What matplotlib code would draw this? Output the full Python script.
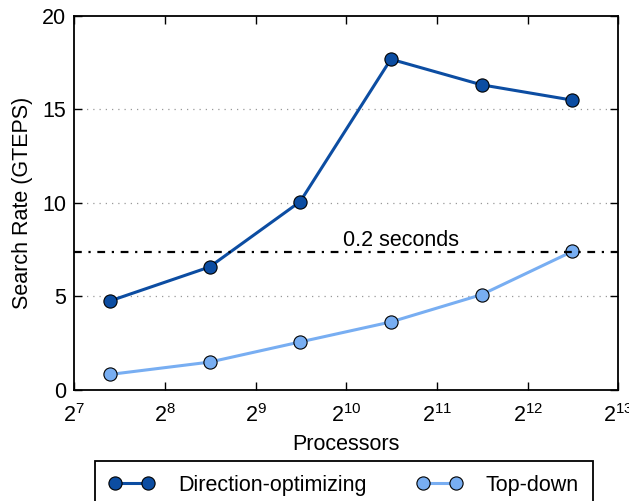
import matplotlib
matplotlib.use('Agg')
import matplotlib.pyplot as plt

# дані з графіка
processors = [168, 360, 720, 1440, 2880, 5760]
direction_opt = [4.75, 6.57, 10.07, 17.69, 16.32, 15.50]
top_down = [0.82, 1.48, 2.56, 3.63, 5.09, 7.40]
rate_02s = 7.38

plt.rcParams['font.family'] = ['Liberation Sans', 'DejaVu Sans']
plt.rcParams['font.size'] = 15.5
plt.rcParams['mathtext.fontset'] = 'custom'
plt.rcParams['mathtext.rm'] = 'Liberation Sans'
plt.rcParams['mathtext.it'] = 'Liberation Sans'

fig = plt.figure(figsize=(6.29, 5.01), dpi=100)
ax = fig.add_axes([0.118, 0.222, 0.865, 0.746])

dark = '#0c4da2'
light = '#78aef2'

ax.plot(processors, direction_opt, '-o', color=dark, lw=2.2, markersize=9.5,
        markeredgecolor='black', markeredgewidth=0.8, label='Direction-optimizing')
ax.plot(processors, top_down, '-o', color=light, lw=2.2, markersize=9.5,
        markeredgecolor='black', markeredgewidth=0.8, label='Top-down')

ax.axhline(rate_02s, color='black', lw=1.6, ls='-.', dashes=(3.5, 3, 1, 3))
ax.text(2 ** 10.6, rate_02s + 0.05, '0.2 seconds', ha='center', va='bottom')

ax.set_xscale('log', base=2)
ax.set_xlim(2 ** 7, 2 ** 13)
ax.set_ylim(0, 20)
ax.set_yticks([0, 5, 10, 15, 20])
ax.set_xticks([2 ** k for k in range(7, 14)])
ax.minorticks_off()
for y in [5, 10, 15]:
    ax.axhline(y, color='#999999', lw=0.9, ls=(0, (1, 4)), zorder=0)

ax.tick_params(direction='in', length=6, width=1, top=True, right=True, pad=6)
ax.tick_params(axis='x', pad=10)
for s in ax.spines.values():
    s.set_linewidth(1.3)

ax.set_xlabel('Processors', labelpad=5)
ax.set_ylabel('Search Rate (GTEPS)', labelpad=6)

leg = fig.legend(loc='upper left', bbox_to_anchor=(0.151, 0.080), ncol=2, numpoints=2,
                 frameon=True, fancybox=False, edgecolor='black', borderpad=0.65,
                 borderaxespad=0, handlelength=2.1, columnspacing=2.35,
                 handletextpad=1.1, framealpha=1)
leg.get_frame().set_linewidth(1.3)

fig.savefig('out.png', dpi=100)
